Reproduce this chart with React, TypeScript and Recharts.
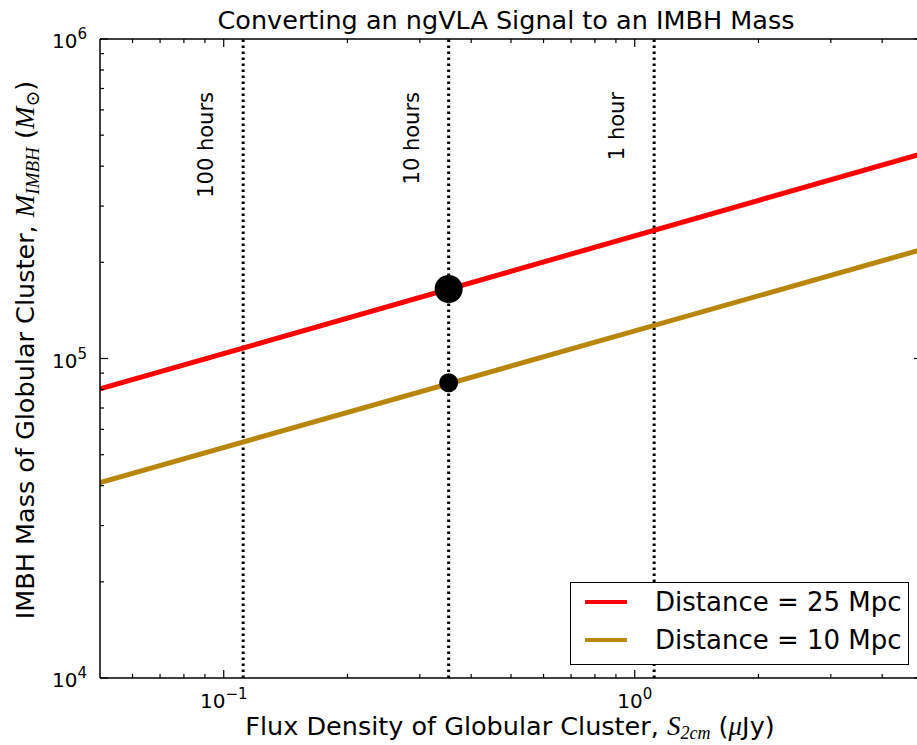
import React from 'react';
import { ComposedChart, Line, Scatter, XAxis, YAxis, ReferenceLine } from 'recharts';

const fluxRange = [0.05, 5];
const massRange = [1e4, 1e6];
const mass25Mpc = [80300, 437800];
const mass10Mpc = [40900, 219400];
const exposureFlux = [0.1115, 0.3526, 1.115];
const exposureLabels = ['100 hours', '10 hours', '1 hour'];
const markerFlux = [0.3526];
const marker25Mpc = [165000];
const marker10Mpc = [84000];
const xTicks = [0.06, 0.07, 0.08, 0.09, 0.1, 0.2, 0.3, 0.4, 0.5, 0.6, 0.7, 0.8, 0.9, 1, 2, 3, 4];
const yTicks = [1e4, 2e4, 3e4, 4e4, 5e4, 6e4, 7e4, 8e4, 9e4, 1e5, 2e5, 3e5, 4e5, 5e5, 6e5, 7e5, 8e5, 9e5, 1e6];
const seriesNames = ['Distance = 25 Mpc', 'Distance = 10 Mpc'];
const seriesColors = ['#ff0000', '#b8860b'];

const line25 = fluxRange.map((x, i) => ({ x, y: mass25Mpc[i] }));
const line10 = fluxRange.map((x, i) => ({ x, y: mass10Mpc[i] }));
const dots25 = markerFlux.map((x, i) => ({ x, y: marker25Mpc[i] }));
const dots10 = markerFlux.map((x, i) => ({ x, y: marker10Mpc[i] }));

const FONT = '"DejaVu Sans", sans-serif';
const MATH = '"Liberation Serif", "DejaVu Serif", serif';

const isMajor = (v: number) => Math.abs(Math.log10(v) - Math.round(Math.log10(v))) < 1e-6;
const expStr = (v: number) => {
  const e = Math.round(Math.log10(v));
  return e < 0 ? '\u2212' + String(-e) : String(e);
};

const XTick = (props: any) => {
  const { x, y, payload, side } = props;
  const v = payload.value;
  const major = isMajor(v);
  const len = major ? 8 : 4;
  const dir = side === 'bottom' ? -1 : 1;
  return (
    <g>
      <line x1={x} y1={y} x2={x} y2={y + dir * len} stroke="#000" strokeWidth={1.2} />
      {major && side === 'bottom' && (
        <text x={x} y={y + 30} textAnchor="middle" fontSize={20} fontFamily={FONT} fill="#000">
          <tspan>10</tspan>
          <tspan dy={-9} fontSize={15}>{expStr(v)}</tspan>
        </text>
      )}
    </g>
  );
};

const YTick = (props: any) => {
  const { x, y, payload, side } = props;
  const v = payload.value;
  const major = isMajor(v);
  const len = major ? 8 : 4;
  const dir = side === 'left' ? 1 : -1;
  return (
    <g>
      <line x1={x} y1={y} x2={x + dir * len} y2={y} stroke="#000" strokeWidth={1.2} />
      {major && side === 'left' && (
        <text x={x - 13} y={y + 9} textAnchor="end" fontSize={20} fontFamily={FONT} fill="#000">
          <tspan>10</tspan>
          <tspan dy={-9} fontSize={15}>{expStr(v)}</tspan>
        </text>
      )}
    </g>
  );
};

const makeExposureLabel = (text: string) => (props: any) => {
  const vb = props.viewBox || {};
  const bx = vb.x - 30;
  const by = 92;
  return (
    <text
      x={bx}
      y={by}
      transform={`rotate(-90, ${bx}, ${by})`}
      textAnchor="end"
      fontSize={21}
      fontFamily={FONT}
      fill="#000"
    >
      {text}
    </text>
  );
};

const BigDot = (props: any) => <circle cx={props.cx} cy={props.cy} r={14} fill="#000" />;
const SmallDot = (props: any) => <circle cx={props.cx} cy={props.cy} r={9.5} fill="#000" />;

export default function App() {
  return (
    <div style={{ position: 'absolute', left: 0, top: 0, width: 917, height: 745, overflow: 'hidden', background: '#fff' }}>
      <ComposedChart
        width={940}
        height={745}
        margin={{ top: 38, right: 17, bottom: 37, left: 40 }}
        style={{ position: 'absolute', left: 0, top: 0 }}
      >
        <XAxis
          xAxisId={0}
          dataKey="x"
          type="number"
          scale="log"
          domain={fluxRange}
          allowDataOverflow
          ticks={xTicks}
          interval={0}
          height={30}
          tickLine={false}
          tickSize={0}
          tickMargin={0}
          axisLine={{ stroke: '#000', strokeWidth: 1.5 }}
          tick={(p: any) => <XTick {...p} side="bottom" />}
        />
        <XAxis
          xAxisId="top"
          orientation="top"
          dataKey="x"
          type="number"
          scale="log"
          domain={fluxRange}
          allowDataOverflow
          ticks={xTicks}
          interval={0}
          height={1}
          tickLine={false}
          tickSize={0}
          tickMargin={0}
          axisLine={{ stroke: '#000', strokeWidth: 1.5 }}
          tick={(p: any) => <XTick {...p} side="top" />}
        />
        <YAxis
          yAxisId={0}
          dataKey="y"
          type="number"
          scale="log"
          domain={massRange}
          allowDataOverflow
          ticks={yTicks}
          interval={0}
          width={60}
          tickLine={false}
          tickSize={0}
          tickMargin={0}
          axisLine={{ stroke: '#000', strokeWidth: 1.5 }}
          tick={(p: any) => <YTick {...p} side="left" />}
        />
        <YAxis
          yAxisId="right"
          orientation="right"
          dataKey="y"
          type="number"
          scale="log"
          domain={massRange}
          allowDataOverflow
          ticks={yTicks}
          interval={0}
          width={1}
          tickLine={false}
          tickSize={0}
          tickMargin={0}
          axisLine={{ stroke: '#000', strokeWidth: 1.5 }}
          tick={(p: any) => <YTick {...p} side="right" />}
        />
        {exposureFlux.map((fx, i) => (
          <ReferenceLine
            key={'ref' + i}
            x={fx}
            stroke="#000"
            strokeWidth={3}
            strokeDasharray="2.5 3.5"
            label={makeExposureLabel(exposureLabels[i])}
          />
        ))}
        <Line
          data={line25}
          dataKey="y"
          stroke={seriesColors[0]}
          strokeWidth={5}
          dot={false}
          isAnimationActive={false}
          name={seriesNames[0]}
        />
        <Line
          data={line10}
          dataKey="y"
          stroke={seriesColors[1]}
          strokeWidth={5}
          dot={false}
          isAnimationActive={false}
          name={seriesNames[1]}
        />
        <Scatter data={dots25} dataKey="y" shape={BigDot} isAnimationActive={false} />
        <Scatter data={dots10} dataKey="y" shape={SmallDot} isAnimationActive={false} />
      </ComposedChart>

      <svg width={917} height={745} style={{ position: 'absolute', left: 0, top: 0, pointerEvents: 'none' }}>
        <text x={506} y={29} textAnchor="middle" fontSize={25.5} fontFamily={FONT} fill="#000">
          Converting an ngVLA Signal to an IMBH Mass
        </text>
        <text x={510} y={735} textAnchor="middle" fontSize={25.5} fontFamily={FONT} fill="#000">
          <tspan>Flux Density of Globular Cluster, </tspan>
          <tspan fontFamily={MATH} fontStyle="italic" fontSize={27}>S</tspan>
          <tspan fontFamily={MATH} fontStyle="italic" fontSize={18} dy={4}>2cm</tspan>
          <tspan dy={-4}> (</tspan>
          <tspan fontFamily={MATH} fontStyle="italic" fontSize={27}>μ</tspan>
          <tspan>Jy)</tspan>
        </text>
        <text
          x={34}
          y={350}
          transform="rotate(-90, 34, 350)"
          textAnchor="middle"
          fontSize={25.5}
          fontFamily={FONT}
          fill="#000"
        >
          <tspan>IMBH Mass of Globular Cluster, </tspan>
          <tspan fontFamily={MATH} fontStyle="italic" fontSize={27}>M</tspan>
          <tspan fontFamily={MATH} fontStyle="italic" fontSize={19} dy={5}>IMBH</tspan>
          <tspan dy={-5}> (</tspan>
          <tspan fontFamily={MATH} fontStyle="italic" fontSize={27}>M</tspan>
          <tspan fontFamily={MATH} fontSize={19} dy={5}>⊙</tspan>
          <tspan dy={-5}>)</tspan>
        </text>
      </svg>

      <div
        style={{
          position: 'absolute',
          left: 570,
          top: 582,
          width: 339,
          height: 83,
          border: '1.5px solid #000',
          background: '#fff',
          boxSizing: 'border-box',
          fontFamily: FONT,
          fontSize: 26,
          color: '#000',
        }}
      >
        {seriesNames.map((name, i) => (
          <div
            key={name}
            style={{ position: 'absolute', left: 0, top: i === 0 ? 3 : 41, height: 32, display: 'flex', alignItems: 'center', whiteSpace: 'nowrap' }}
          >
            <div style={{ width: 42, height: 4, background: seriesColors[i], marginLeft: 14, marginRight: 28 }} />
            <span>{name}</span>
          </div>
        ))}
      </div>
    </div>
  );
}
